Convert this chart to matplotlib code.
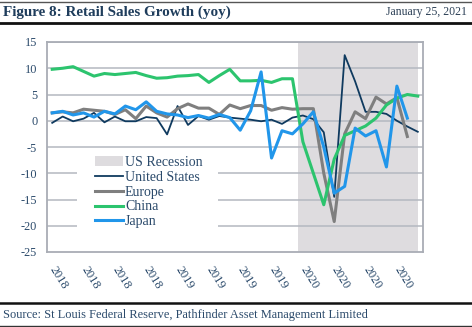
import matplotlib
matplotlib.use("Agg")
import matplotlib.pyplot as plt
import numpy as np
from matplotlib.lines import Line2D
from matplotlib.patches import Rectangle

# ---- data (monthly, Jan 2018 .. Dec 2020) ----
tick_labels = ["2018", "2018", "2018", "2018", "2019", "2019", "2019", "2019",
               "2020", "2020", "2020", "2020"]
us = [-0.4, 0.8, -0.1, 0.4, 1.5, -0.3, 0.8, -0.1, -0.1, 0.7, 0.5, -2.6,
      2.8, -0.8, 0.9, 0.2, 0.9, 0.6, 0.4, 0.2, -0.1, 0.2, -0.6, 0.6,
      1.0, 0.3, -2.2, -14.5, 12.5, 7.5, 1.7, 1.7, 1.3, 0.0, -1.1, -2.1]
europe = [1.5, 1.7, 1.5, 2.2, 2.0, 1.8, 1.2, 2.1, 0.4, 2.8, 1.5, 0.7,
          2.3, 3.2, 2.4, 2.4, 1.2, 3.0, 2.3, 2.9, 2.9, 2.0, 2.5, 2.2,
          2.3, 2.3, -10.0, -19.2, -2.5, 1.7, 0.4, 4.5, 3.2, 4.4, -3.0]
china = [9.8, 10.0, 10.3, 9.4, 8.5, 9.0, 8.8, 9.0, 9.2, 8.6, 8.1, 8.2,
         8.5, 8.6, 8.8, 7.3, 8.6, 9.8, 7.6, 7.6, 7.7, 7.3, 8.0, 8.0,
         -4.0, -10.0, -16.0, -7.3, -2.8, -1.9, -1.0, 0.5, 3.0, 4.3, 5.0, 4.7]
japan = [1.5, 1.8, 1.1, 1.5, 0.7, 1.8, 1.3, 2.8, 2.1, 3.6, 1.8, 1.3,
         1.1, 0.6, 1.0, 0.5, 1.2, 0.6, -1.8, 1.9, 9.3, -7.1, -1.9, -2.5,
         -0.6, 1.7, -5.0, -13.8, -12.5, -1.4, -2.9, -1.9, -8.8, 6.6, 0.5]
recession = [0] * 24 + [1] * 12

serif = ["Liberation Serif", "DejaVu Serif"]
navy_text = "#2b4a6b"

fig = plt.figure(figsize=(4.72, 3.27), dpi=100)
ax = fig.add_axes([47 / 472, 1 - 252 / 327, 376 / 472, 210 / 327])

rec_idx = np.nonzero(recession)[0]
ax.axvspan(rec_idx[0] - 0.5, rec_idx[-1], color="#dedcdf", lw=0, zorder=0.5,
           label="US Recession")

for yv in range(-20, 16, 5):
    ax.axhline(yv, color="#b4b8c0", lw=1.1, zorder=1)

ax.plot(np.arange(len(us)), us, color="#0f3a5f", lw=1.3, zorder=3, label="United States")
ax.plot(np.arange(len(europe)), europe, color="#7f7f7f", lw=2.2, zorder=3, label="Europe")
ax.plot(np.arange(len(china)), china, color="#2cc46e", lw=2.2, zorder=3, label="China")
ax.plot(np.arange(len(japan)), japan, color="#2196ea", lw=2.2, zorder=3, label="Japan")

# white background behind the legend
ax.add_patch(Rectangle((0.08, 0.075), 0.375, 0.41, transform=ax.transAxes,
                       facecolor="white", edgecolor="none", zorder=2))

ax.set_xlim(-0.5, 35.5)
ax.set_ylim(-25, 15)
ax.set_yticks(range(-25, 16, 5))
ax.set_yticklabels([str(v) for v in range(-25, 16, 5)], family=serif, fontsize=8.8,
                   color=navy_text)
ax.set_xticks(np.arange(0, 36, 3))
ax.set_xticklabels(tick_labels, family=serif, fontsize=8.8, color=navy_text,
                   rotation=-58, ha="left", va="center", rotation_mode="anchor")
ax.tick_params(axis="y", length=0, pad=7)
ax.tick_params(axis="x", length=0, pad=11)
for s in ax.spines.values():
    s.set_color("#a9adb5")
    s.set_linewidth(1.3)

leg = ax.legend(loc="upper left", bbox_to_anchor=(0.128, 0.457), frameon=False,
                prop={"family": serif, "size": 10}, handlelength=2.0,
                handletextpad=0.15, labelspacing=0.13, borderpad=0,
                borderaxespad=0)
for t in leg.get_texts():
    t.set_color(navy_text)

# header and footer
fig.add_artist(Line2D([0, 1], [1 - 2 / 327, 1 - 2 / 327], color="#555555", lw=1.0))
fig.add_artist(Line2D([0, 1], [1 - 22.5 / 327, 1 - 22.5 / 327], color="#111111", lw=2.0))
fig.text(3 / 472, 1 - 12.5 / 327, "Figure 8: Retail Sales Growth (yoy)", family=serif,
         fontsize=10.9, fontweight="bold", color="#1f3d5c", va="center", ha="left")
fig.text(467 / 472, 1 - 12.5 / 327, "January 25, 2021", family=serif, fontsize=8.5,
         color="#2b3f55", va="center", ha="right")
fig.add_artist(Line2D([0, 1], [1 - 303 / 327, 1 - 303 / 327], color="#111111", lw=1.8))
fig.add_artist(Line2D([0, 1], [1 - 325.5 / 327, 1 - 325.5 / 327], color="#333333", lw=1.0))
fig.text(3 / 472, 1 - 315 / 327,
         "Source: St Louis Federal Reserve, Pathfinder Asset Management Limited",
         family=serif, fontsize=8.9, color="#2b4a6b", va="center", ha="left")

fig.savefig("out.png", dpi=100)
